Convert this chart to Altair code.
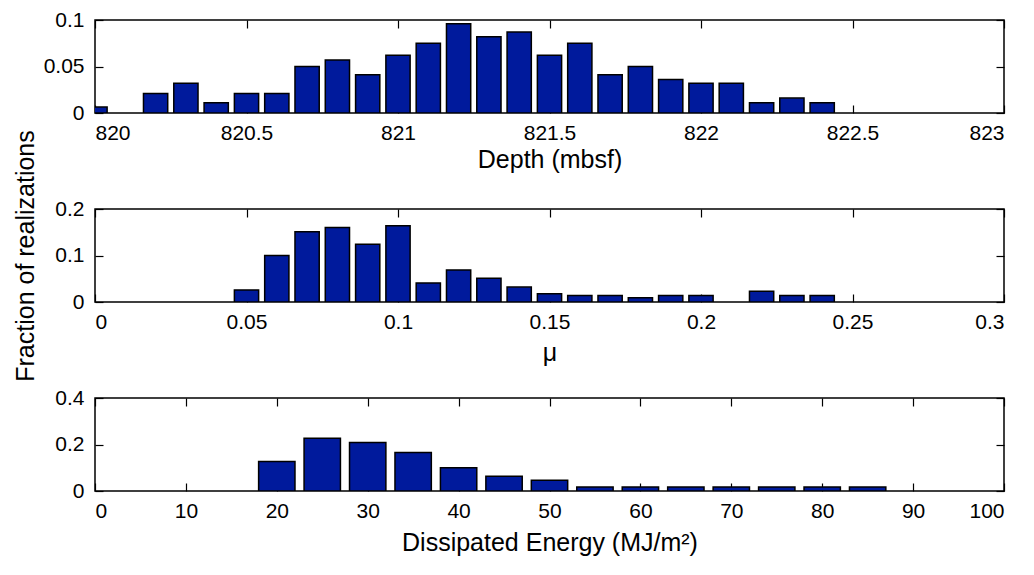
import altair as alt
import pandas as pd

# ---- data ----
depth_centers = [820.0, 820.2, 820.3, 820.4, 820.5, 820.6, 820.7, 820.8, 820.9,
                 821.0, 821.1, 821.2, 821.3, 821.4, 821.5, 821.6, 821.7, 821.8,
                 821.9, 822.0, 822.1, 822.2, 822.3, 822.4]
depth_frac = [0.0064, 0.021, 0.032, 0.011, 0.021, 0.021, 0.050, 0.057, 0.041,
              0.062, 0.075, 0.096, 0.082, 0.087, 0.062, 0.075, 0.041, 0.050,
              0.036, 0.032, 0.032, 0.011, 0.016, 0.011]
depth_ticks = [820, 820.5, 821, 821.5, 822, 822.5, 823]
depth_yticks = [0, 0.05, 0.1]

mu_centers = [0.05, 0.06, 0.07, 0.08, 0.09, 0.10, 0.11, 0.12, 0.13, 0.14,
              0.15, 0.16, 0.17, 0.18, 0.19, 0.20, 0.22, 0.23, 0.24]
mu_frac = [0.026, 0.100, 0.151, 0.160, 0.124, 0.164, 0.041, 0.069, 0.051, 0.032,
           0.018, 0.014, 0.014, 0.009, 0.014, 0.014, 0.023, 0.014, 0.014]
mu_ticks = [0, 0.05, 0.1, 0.15, 0.2, 0.25, 0.3]
mu_yticks = [0, 0.1, 0.2]

energy_centers = [20, 25, 30, 35, 40, 45, 50, 55, 60, 65, 70, 75, 80, 85]
energy_frac = [0.127, 0.227, 0.209, 0.166, 0.100, 0.063, 0.046,
               0.017, 0.017, 0.017, 0.017, 0.017, 0.017, 0.017]
energy_ticks = [0, 10, 20, 30, 40, 50, 60, 70, 80, 90, 100]
energy_yticks = [0, 0.2, 0.4]

BLUE = "#001a9c"
FONT = "Liberation Sans"
FMT = ".6~g"
W, H = 909, 93


def panel(centers, fracs, binw, xdom, xticks, ydom, yticks, xtitle, ytitle="",
          xtitle_pad=10):
    df = pd.DataFrame({"c": centers, "f": fracs})
    df["lo"] = df["c"] - 0.4 * binw
    df["hi"] = df["c"] + 0.4 * binw
    xs = alt.Scale(domain=xdom, nice=False, zero=False)
    ys = alt.Scale(domain=ydom, nice=False)
    bars = alt.Chart(df).mark_bar(clip=True, color=BLUE, stroke="black",
                                  strokeWidth=1.5).encode(
        x=alt.X("lo:Q", scale=xs,
                axis=alt.Axis(orient="bottom", values=xticks, format=FMT,
                              title=xtitle, offset=-8, tickSize=8, domain=False,
                              labelPadding=9, titlePadding=xtitle_pad, grid=False)),
        x2="hi:Q",
        y=alt.Y("f:Q", scale=ys,
                axis=alt.Axis(orient="left", values=yticks, format=FMT,
                              title=ytitle, offset=-8, tickSize=8, domain=False,
                              labelPadding=11, titlePadding=16, grid=False)),
        y2=alt.datum(0),
    )
    ghost = alt.Chart(df).mark_bar(clip=True, opacity=0).encode(
        x=alt.X("lo:Q", scale=xs,
                axis=alt.Axis(orient="top", values=xticks, labels=False, title="",
                              offset=-8, tickSize=8, domain=False, grid=False)),
        x2="hi:Q",
        y=alt.Y("f:Q", scale=ys,
                axis=alt.Axis(orient="right", values=yticks, labels=False, title="",
                              offset=-8, tickSize=8, domain=False, grid=False)),
        y2=alt.datum(0),
    )
    return alt.layer(ghost, bars).resolve_axis(x="independent", y="independent").properties(
        width=W, height=H)


p1 = panel(depth_centers, depth_frac, 0.1, [820, 823], depth_ticks, [0, 0.1],
           depth_yticks, "Depth (mbsf)", xtitle_pad=4)
p2 = panel(mu_centers, mu_frac, 0.01, [0, 0.3], mu_ticks, [0, 0.2], mu_yticks,
           "μ", ytitle="Fraction of realizations", xtitle_pad=8)
p3 = panel(energy_centers, energy_frac, 5, [0, 100], energy_ticks, [0, 0.4],
           energy_yticks, "Dissipated Energy (MJ/m²)", xtitle_pad=9)

chart = alt.vconcat(p1, p2, p3, spacing=96, bounds="flush").properties(
    padding={"left": 5, "top": 0, "right": 5, "bottom": 5}
).configure_view(
    stroke="black", strokeWidth=1.5
).configure_axis(
    labelFont=FONT, titleFont=FONT, labelFontSize=21, titleFontSize=25,
    titleFontWeight="normal", labelColor="black", titleColor="black",
    tickColor="black", tickWidth=1.2
)

chart.save("out.html", embed_options={"renderer": "svg", "actions": False})
